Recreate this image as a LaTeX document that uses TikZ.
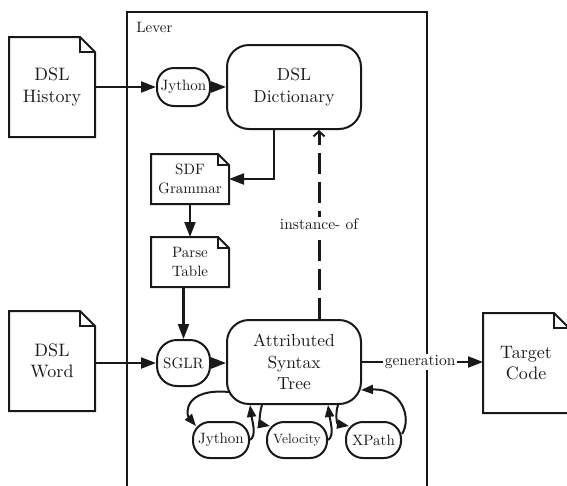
\documentclass[tikz,border=0pt]{standalone}
\usepackage{fontspec}
\setmainfont{lmroman10-regular}[Extension=.otf]
\newcommand{\leverfont}{\rmfamily}
\usetikzlibrary{arrows.meta}
\usetikzlibrary{calc}

\begin{document}
\begin{tikzpicture}[
    x=1pt, y=-1pt,      % one unit per pixel, y running down
    line width=2pt,
    black!90,
    doc/.style={inner sep=0pt, align=center, minimum width=84pt, minimum height=98pt,
                font=\leverfont\fontsize{18}{21.6}\selectfont},
    smalldoc/.style={inner sep=0pt, align=center, minimum width=76pt, minimum height=48pt,
                font=\leverfont\fontsize{15}{19}\selectfont},
    box/.style={draw, rounded corners=22pt, inner sep=0pt, align=center,
                minimum width=134pt, minimum height=84pt, font=\leverfont\fontsize{17.5}{21.6}\selectfont},
    tool/.style={draw, rounded corners=17pt, inner sep=0pt, minimum width=53pt,
                minimum height=38pt, font=\leverfont\fontsize{15}{18}\selectfont},
    flow/.style={-{Triangle[length=15pt,width=11pt]}, line width=2.2pt},
    back/.style={-{Triangle[length=12pt,width=9pt]}, line width=2pt},
    lbl/.style={fill=white, inner sep=1.5pt, font=\leverfont\fontsize{15.5}{18}\selectfont},
    ]

    % Determines the boundries
    \useasboundingbox (0,0) rectangle (567,485);

    \def\bigFold{15}        % folded corner of the big files
    \def\smallFold{11}      % folded corner of the small files
    \def\shiftIn{25}        % offset of the instance-of line

    % Files outside of the tool
    \node[doc] (DH) at (52,87)   {DSL\\History};
    \node[doc] (DW) at (52,361)  {DSL\\Word};
    \node[doc] (TC) at (526,363) {Target\\Code};

    % The Lever frame
    \draw[line width=1.8pt] (127,12) rectangle (427,495);
    \node[anchor=base west, font=\leverfont\fontsize{15}{18}\selectfont] (LV) at (132,32) {Lever};

    \node[box] (DD)  at (294,87)  {DSL\\Dictionary};
    \node[box] (AST) at (294,362) {Attributed\\Syntax\\Tree};

    \node[smalldoc] (SDF) at (190,179) {SDF\\Grammar};
    \node[smalldoc] (PT)  at (190,262) {Parse\\Table};

    % Tools
    \node[tool] (JY) at (183.5,87) {Jython};
    \node[tool, minimum height=46pt, rounded corners=20pt] (SGLR) at (183.5,363) {SGLR};
    \node[tool, minimum width=56pt, minimum height=36pt] (JYB) at (221,440) {Jython};
    \node[tool, minimum width=60pt, minimum height=36pt,
          font=\leverfont\fontsize{13.5}{15}\selectfont] (VEL) at (297,440) {Velocity};
    \node[tool, minimum width=55pt, minimum height=36pt] (XP) at (373.5,440) {XPath};

    % Outlines of the files with the folded corner
    \foreach \n/\fold in {DH/\bigFold, DW/\bigFold, TC/\bigFold,
                          SDF/\smallFold, PT/\smallFold}{
        \draw (\n.south west) -- (\n.north west) -- ($(\n.north east)+(-\fold,0)$)
              -- ($(\n.north east)+(0,\fold)$) -- (\n.south east) -- cycle;
        \draw ($(\n.north east)+(-\fold,0)$) |- ($(\n.north east)+(0,\fold)$);
    }

    % Main flow
    \draw[flow] (DH.east) -- (JY.west);
    \draw[flow] (JY.east) -- (DD.west);
    \draw[flow] ($(DD.south)+(-20,0)$) |- (SDF.east);
    \draw[flow] (SDF.south) -- (PT.north);
    \draw[flow] (PT.south -| SGLR.north) -- (SGLR.north);
    \draw[flow] (DW.east |- SGLR.west) -- (SGLR.west);
    \draw[flow] (SGLR.east) -- (SGLR.east -| AST.west);
    \draw[flow] (AST.east) -- node[lbl, pos=0.48] {generation} (AST.east -| TC.west);

    % instance of
    \coordinate (IA) at ($(AST.north)+(\shiftIn,0)$);
    \coordinate (IB) at ($(DD.south)+(\shiftIn,0)$);
    \draw[line width=3pt, dash pattern=on 21pt off 8pt,
          -{Straight Barb[length=5pt,width=11pt,line width=2pt]}]
        (IA) -- node[lbl] {instance- of} (IB);

    % Loops between the tree and the tools
    \draw[back] ($(AST.south west)+(3,-13)$) .. controls (184,388) and (186,414) .. ($(JYB.north west)+(4,5)$);
    \draw[back] (JYB.east) .. controls (257,436) and (252,420) .. ($(AST.south west)+(24,0)$);
    \draw[back] ($(AST.south west)+(36,0)$) .. controls (259,414) and (260,424) .. ($(VEL.north west)+(4,5)$);
    \draw[back] (VEL.east) .. controls (335,436) and (330,420) .. ($(AST.south west)+(102,0)$);
    \draw[back] ($(AST.south west)+(112,0)$) .. controls (335,414) and (337,424) .. ($(XP.north west)+(4,5)$);
    \draw[back] ($(XP.east)+(0,-6)$) .. controls (412,418) and (402,388) .. ($(AST.south east)+(-1,-15)$);
\end{tikzpicture}
\end{document}
